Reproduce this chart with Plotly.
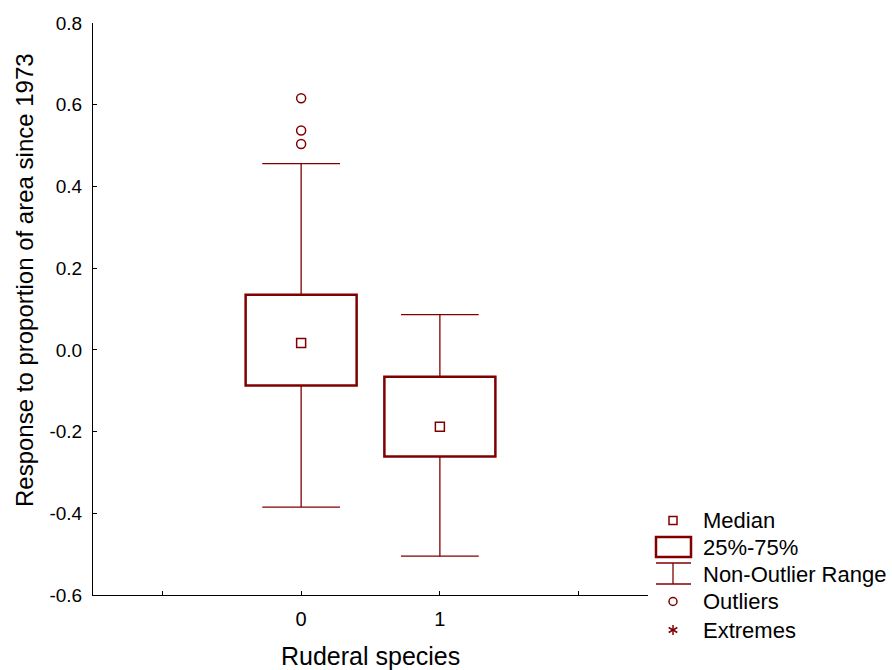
import plotly.graph_objects as go

# ---- data ----
categories = [0, 1]
cat_labels = ["0", "1"]
q1 = [-0.087, -0.261]
q3 = [0.135, -0.066]
medians = [0.017, -0.188]
lower_fence = [-0.385, -0.505]
upper_fence = [0.456, 0.086]
outlier_x = [0, 0, 0]
outlier_y = [0.616, 0.537, 0.504]

y_tickvals = [-0.6, -0.4, -0.2, 0.0, 0.2, 0.4, 0.6, 0.8]
y_ticktext = ["-0.6", "-0.4", "-0.2", "0.0", "0.2", "0.4", "0.6", "0.8"]
x_tickvals = [-1, 0, 1, 2]
x_ticktext = ["", "0", "1", ""]

legend_labels = ["Median", "25%-75%", "Non-Outlier Range", "Outliers", "Extremes"]

# ---- styles ----
RED = "#800000"
FONT = "Liberation Sans, Arial, sans-serif"
W, H = 892, 670
ML, MR, MT, MB = 93, 244, 23, 75
BOX_W = 0.8
CAP_HALF = 0.28

fig = go.Figure()

# boxes
fig.add_trace(go.Bar(
    x=categories, base=q1, y=[b - a for a, b in zip(q1, q3)],
    width=BOX_W, marker=dict(color="white", line=dict(color=RED, width=2.5)),
    showlegend=False, hoverinfo="skip"))

# whiskers and caps
wx, wy = [], []
for c, a, b, lo, hi in zip(categories, q1, q3, lower_fence, upper_fence):
    wx += [c, c, None, c, c, None, c - CAP_HALF, c + CAP_HALF, None, c - CAP_HALF, c + CAP_HALF, None]
    wy += [b, hi, None, a, lo, None, hi, hi, None, lo, lo, None]
fig.add_trace(go.Scatter(x=wx, y=wy, mode="lines", line=dict(color=RED, width=1.3),
                         showlegend=False, hoverinfo="skip"))

# medians
fig.add_trace(go.Scatter(x=categories, y=medians, mode="markers",
                         marker=dict(symbol="square-open", size=9, color=RED, line=dict(width=1.5)),
                         showlegend=False))
# outliers
fig.add_trace(go.Scatter(x=outlier_x, y=outlier_y, mode="markers",
                         marker=dict(symbol="circle-open", size=9, color=RED, line=dict(width=1.5)),
                         showlegend=False))

PW = W - ML - MR
PH = H - MT - MB


def px_x(px):
    return (px - ML) / PW


def px_y(py):
    return (H - MB - py) / PH


shapes = []
annotations = []
sym_cx = 673
rows_y = [520.5, 547, 574, 601.5, 630]
# Median symbol
shapes.append(dict(type="rect", xref="paper", yref="paper",
                   x0=px_x(sym_cx - 4), x1=px_x(sym_cx + 4), y0=px_y(rows_y[0] + 4), y1=px_y(rows_y[0] - 4),
                   line=dict(color=RED, width=1.5), fillcolor="white"))
# Box symbol
shapes.append(dict(type="rect", xref="paper", yref="paper",
                   x0=px_x(656), x1=px_x(691), y0=px_y(557), y1=px_y(537),
                   line=dict(color=RED, width=2.5), fillcolor="white"))
# Whisker symbol
for (x0, y0, x1, y1) in [(656, 563, 691, 563), (656, 584, 691, 584), (sym_cx, 563, sym_cx, 584)]:
    shapes.append(dict(type="line", xref="paper", yref="paper",
                       x0=px_x(x0), x1=px_x(x1), y0=px_y(y0), y1=px_y(y1),
                       line=dict(color=RED, width=1.3)))
# Outlier symbol
shapes.append(dict(type="circle", xref="paper", yref="paper",
                   x0=px_x(sym_cx - 4), x1=px_x(sym_cx + 4), y0=px_y(rows_y[3] + 4), y1=px_y(rows_y[3] - 4),
                   line=dict(color=RED, width=1.5)))
# Extremes asterisk
ey = rows_y[4]
for (dx0, dy0, dx1, dy1) in [(0, -5, 0, 5), (-4.3, -2.5, 4.3, 2.5), (-4.3, 2.5, 4.3, -2.5)]:
    shapes.append(dict(type="line", xref="paper", yref="paper",
                       x0=px_x(sym_cx + dx0), x1=px_x(sym_cx + dx1), y0=px_y(ey + dy0), y1=px_y(ey + dy1),
                       line=dict(color=RED, width=1.5)))

for lab, yy in zip(legend_labels, rows_y):
    annotations.append(dict(text=lab, xref="paper", yref="paper", x=px_x(701), y=px_y(yy),
                            xanchor="left", yanchor="middle", showarrow=False,
                            font=dict(family=FONT, size=22, color="black")))

# axis titles
annotations.append(dict(text="Response to proportion of area since 1973", xref="paper", yref="paper",
                        x=px_x(24), y=px_y(280), textangle=-90, xanchor="center", yanchor="middle",
                        showarrow=False, font=dict(family=FONT, size=24, color="black")))
annotations.append(dict(text="Ruderal species", xref="paper", yref="paper",
                        x=0.5, y=px_y(656), xanchor="center", yanchor="middle",
                        showarrow=False, font=dict(family=FONT, size=25, color="black")))

fig.update_layout(
    width=W, height=H, autosize=False,
    margin=dict(l=ML, r=MR, t=MT, b=MB),
    paper_bgcolor="white", plot_bgcolor="white",
    shapes=shapes, annotations=annotations,
    showlegend=False,
    xaxis=dict(range=[-1.5, 2.5], tickvals=x_tickvals, ticktext=x_ticktext,
               ticks="inside", ticklen=4, tickcolor="black", showline=True, linecolor="black",
               linewidth=1, showgrid=False, zeroline=False, ticklabelstandoff=6,
               tickfont=dict(family=FONT, size=20, color="black")),
    yaxis=dict(range=[-0.6, 0.8], tickvals=y_tickvals, ticktext=y_ticktext,
               ticks="inside", ticklen=4, tickcolor="black", showline=True, linecolor="black",
               linewidth=1, showgrid=False, zeroline=False, ticklabelstandoff=6,
               tickfont=dict(family=FONT, size=19, color="black")),
)

fig.write_html("out.html", config={"displayModeBar": False},
               post_script="document.body.style.margin='0';document.body.style.padding='0';")
